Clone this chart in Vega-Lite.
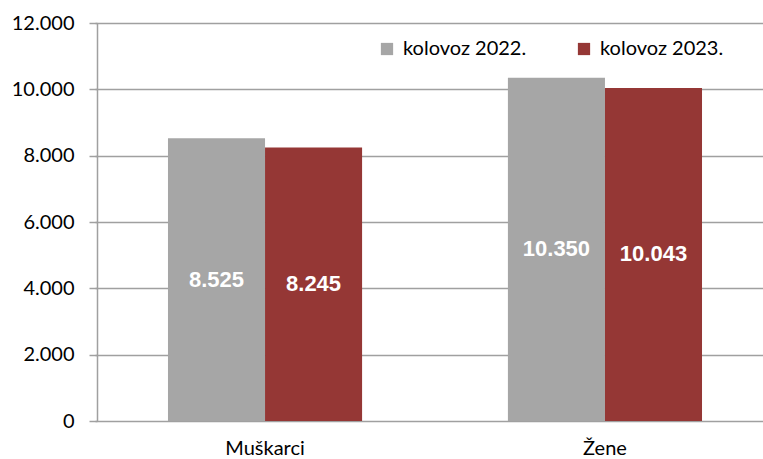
{
  "$schema": "https://vega.github.io/schema/vega-lite/v6.json",
  "width": 666,
  "height": 398,
  "autosize": {"type": "none"},
  "padding": {"left": 97, "top": 23, "right": 0, "bottom": 38},
  "background": "white",
  "config": {
    "view": {"stroke": null},
    "locale": {"number": {"decimal": ",", "thousands": ".", "grouping": [3], "currency": ["", ""]}},
    "axis": {"labelFont": "Lato", "labelColor": "#000000"}
  },
  "data": {
    "values": [
      {"spol": "Muškarci", "razdoblje": "kolovoz 2022.", "broj": 8525},
      {"spol": "Muškarci", "razdoblje": "kolovoz 2023.", "broj": 8245},
      {"spol": "Žene", "razdoblje": "kolovoz 2022.", "broj": 10350},
      {"spol": "Žene", "razdoblje": "kolovoz 2023.", "broj": 10043}
    ]
  },
  "encoding": {
    "x": {
      "field": "spol",
      "type": "nominal",
      "sort": ["Muškarci", "Žene"],
      "scale": {"range": [-2, 678], "paddingInner": 0.429, "paddingOuter": 0.2147},
      "axis": {
        "title": null,
        "labelAngle": 0,
        "labelFontSize": 20,
        "labelPadding": 17,
        "ticks": false,
        "domain": false,
        "grid": false
      }
    },
    "xOffset": {
      "field": "razdoblje",
      "type": "nominal",
      "scale": {"paddingInner": 0, "paddingOuter": 0}
    }
  },
  "layer": [
    {
      "mark": {"type": "bar"},
      "encoding": {
        "y": {
          "field": "broj",
          "type": "quantitative",
          "scale": {"domain": [0, 12000], "nice": false},
          "axis": {
            "title": null,
            "values": [0, 2000, 4000, 6000, 8000, 10000, 12000],
            "format": ",.0f",
            "labelFontSize": 20,
            "labelPadding": 15,
            "tickSize": 8,
            "tickColor": "#A0A0A0",
            "domainColor": "#A0A0A0",
            "gridColor": "#A0A0A0",
            "gridWidth": 1.5,
            "domainWidth": 1.5,
            "tickWidth": 1.5
          }
        },
        "color": {
          "field": "razdoblje",
          "type": "nominal",
          "scale": {"domain": ["kolovoz 2022.", "kolovoz 2023."], "range": ["#A6A6A6", "#953735"]},
          "legend": {
            "title": null,
            "orient": "none",
            "direction": "horizontal",
            "legendX": 280,
            "legendY": 16,
            "symbolType": "square",
            "symbolSize": 150,
            "symbolStrokeWidth": 0,
            "labelFont": "Lato",
            "labelFontSize": 20,
            "labelColor": "#000000",
            "labelOffset": 6,
            "columnPadding": 47,
            "labelLimit": 300
          }
        }
      }
    },
    {
      "mark": {"type": "text", "font": "Liberation Sans", "fontWeight": "bold", "fontSize": 22, "color": "white", "baseline": "middle", "align": "center"},
      "encoding": {
        "y": {
          "field": "broj",
          "type": "quantitative",
          "scale": {"domain": [0, 24000], "nice": false},
          "axis": null
        },
        "text": {"field": "broj", "type": "quantitative", "format": ",.0f"}
      }
    }
  ],
  "resolve": {"scale": {"y": "independent"}}
}
